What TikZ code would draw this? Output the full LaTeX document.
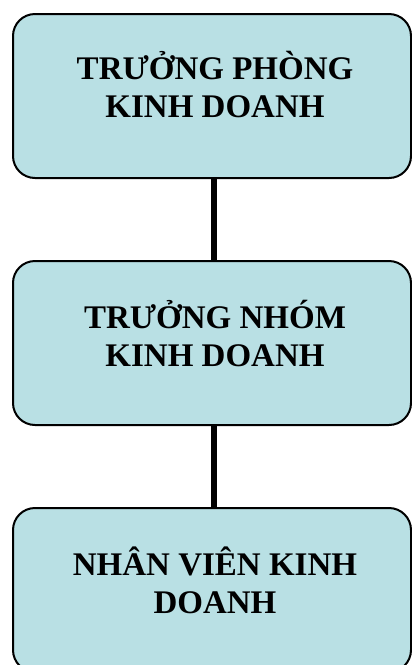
\documentclass[tikz,border=0pt]{standalone}
\usepackage{fontspec}
\setmainfont{Liberation Serif}
\definecolor{boxfill}{RGB}{185,224,228}
\tikzset{
  orgbox/.style={draw=black, line width=2pt, fill=boxfill, rounded corners=22pt,
    minimum width=398pt, minimum height=164pt, inner sep=0pt},
  orgtext/.style={align=center, font=\bfseries\fontsize{33}{38}\selectfont, inner sep=0pt},
  link/.style={line width=5.5pt, black}
}
\begin{document}
\begin{tikzpicture}[x=1pt,y=1pt]
  \useasboundingbox (0,0) rectangle (412,-665);
  % three levels of the sales department
  \node[orgbox, anchor=north] (b1) at (212,-13) {};
  \node[orgbox, anchor=north] (b2) at (212,-260) {};
  \node[orgbox, anchor=north] (b3) at (212,-507) {};
  \node[orgtext] (t1) at (215,-85) {TRƯỞNG PHÒNG\\KINH DOANH};
  \node[orgtext] (t2) at (215,-333) {TRƯỞNG NHÓM\\KINH DOANH};
  \node[orgtext] (t3) at (215,-580) {NHÂN VIÊN KINH\\DOANH};
  % reporting lines
  \draw[link] ([xshift=2pt]b1.south) -- ([xshift=2pt]b2.north);
  \draw[link] ([xshift=2pt]b2.south) -- ([xshift=2pt]b3.north);
\end{tikzpicture}
\end{document}
